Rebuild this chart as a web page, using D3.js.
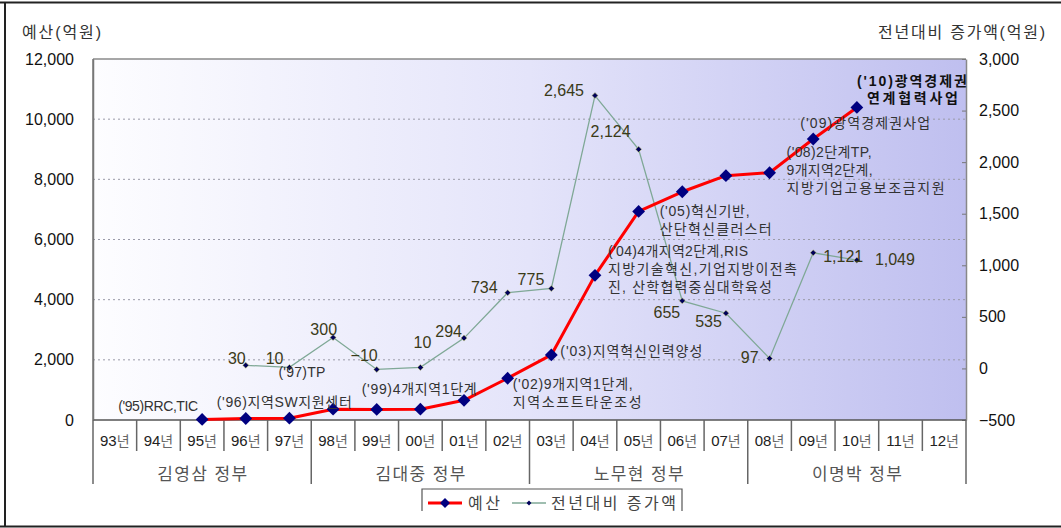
<!DOCTYPE html>
<html><head><meta charset="utf-8">
<script src="https://cdn.jsdelivr.net/npm/d3@7"></script>
<style>
body{margin:0;background:#fff;}
text{font-family:"Liberation Sans","Noto Sans CJK KR",sans-serif;}
</style></head>
<body>
<svg id="chart" width="1061" height="528"></svg>
<script>
// ---- data ----
const categories = ['93년','94년','95년','96년','97년','98년','99년','00년','01년','02년','03년','04년','05년','06년','07년','08년','09년','10년','11년','12년'];
const budget = [null,null,20,50,60,360,350,360,654,1388,2163,4808,6932,7587,8122,8219,9340,10389,null,null];
const increase = [null,null,null,30,10,300,-10,10,294,734,775,2645,2124,655,535,97,1121,1049,null,null];
const governments = [
  {name:'김영삼 정부', first:'93년', last:'97년'},
  {name:'김대중 정부', first:'98년', last:'02년'},
  {name:'노무현 정부', first:'03년', last:'07년'},
  {name:'이명박 정부', first:'08년', last:'12년'}
];
const leftTicks = [0,2000,4000,6000,8000,10000,12000];
const rightTicks = [-500,0,500,1000,1500,2000,2500,3000];
const annotations = [
  {cat:'95년', lines:["('95)RRC,TIC"]},
  {cat:'96년', lines:["('96)지역SW지원센터"]},
  {cat:'97년', lines:["('97)TP"]},
  {cat:'99년', lines:["('99)4개지역1단계"]},
  {cat:'02년', lines:["('02)9개지역1단계,","지역소프트타운조성"]},
  {cat:'03년', lines:["('03)지역혁신인력양성"]},
  {cat:'04년', lines:["('04)4개지역2단계,RIS","지방기술혁신,기업지방이전촉","진, 산학협력중심대학육성"]},
  {cat:'05년', lines:["('05)혁신기반,","산단혁신클러스터"]},
  {cat:'08년', lines:["('08)2단계TP,","9개지역2단계,","지방기업고용보조금지원"]},
  {cat:'09년', lines:["('09)광역경제권사업"]},
  {cat:'10년', lines:["('10)광역경제권","연계협력사업"], bold:true}
];
const seriesNames = ['예산','전년대비 증가액'];
const leftTitle = '예산(억원)';
const rightTitle = '전년대비 증가액(억원)';

// ---- layout / style (not data) ----
const annStyle = {
  '95년':{dx:-84,dy:-8,  w:[80]},
  '96년':{dx:-29,dy:-11, w:[135]},
  '97년':{dx:-11,dy:-41, w:[47]},
  '99년':{dx:-15,dy:-15, w:[115]},
  '02년':{dx:5,dy:11,    w:[120,129]},
  '03년':{dx:9,dy:1,     w:[142]},
  '04년':{dx:13,dy:-19,  w:[140,189,164]},
  '05년':{dx:21,dy:5,    w:[90,112]},
  '08년':{dx:17,dy:-16,  w:[85,86,158]},
  '09년':{dx:-13,dy:-11, w:[130]},
  '10년':{dx:0,dy:-21,   w:[110,91], right:[false,true]}
};
const valOffset = {
  '96년':{dx:0,dy:-1,a:'end'}, '97년':{dx:-6,dy:-3,a:'end'}, '98년':{dx:4,dy:-2,a:'end'},
  '99년':{dx:1,dy:-8,a:'end'}, '00년':{dx:11,dy:-19,a:'end'}, '01년':{dx:-2,dy:-1,a:'end'},
  '02년':{dx:-10,dy:0,a:'end'}, '03년':{dx:-7,dy:-3,a:'end'}, '04년':{dx:-11,dy:0,a:'end'},
  '05년':{dx:-8,dy:-12,a:'end'}, '06년':{dx:-2,dy:17,a:'end'}, '07년':{dx:-4,dy:14,a:'end'},
  '08년':{dx:-11,dy:5,a:'end'}, '09년':{dx:10,dy:9,a:'start'}, '10년':{dx:18,dy:5,a:'start'}
};

const svg = d3.select('#chart');
const L = 93, R = 966, T = 59, B = 420;
const x = d3.scaleBand().domain(categories).range([L, R]).padding(0);
const cx = c => x(c) + x.bandwidth()/2;
const yL = d3.scaleLinear().domain([0,12000]).range([B, T]);
const yR = d3.scaleLinear().domain([-500,3000]).range([B, T]);

// gradient background
const defs = svg.append('defs');
const grad = defs.append('linearGradient').attr('id','bg').attr('x1','0').attr('x2','1').attr('y1','0').attr('y2','0');
grad.append('stop').attr('offset','0%').attr('stop-color','#fdfdff');
grad.append('stop').attr('offset','50%').attr('stop-color','#e4e4fa');
grad.append('stop').attr('offset','100%').attr('stop-color','#bfbfef');
svg.append('rect').attr('x',L).attr('y',T).attr('width',R-L).attr('height',B-T).attr('fill','url(#bg)');

// gridlines
svg.append('g').selectAll('line').data(leftTicks.filter(d=>d>0 && d<12000)).join('line')
  .attr('x1',L).attr('x2',R).attr('y1',d=>yL(d)).attr('y2',d=>yL(d))
  .attr('stroke','#9a9aa8').attr('stroke-width',1).attr('stroke-dasharray','2,3');

// plot frame top
svg.append('line').attr('x1',L).attr('x2',R).attr('y1',T).attr('y2',T).attr('stroke','#8a8a8a').attr('stroke-width',1.5);

// left axis
const gL = svg.append('g').attr('transform',`translate(${L},0)`)
  .call(d3.axisLeft(yL).tickValues(leftTicks).tickFormat(d3.format(',')).tickSize(0).tickPadding(19));
gL.select('.domain').attr('stroke','#777').attr('stroke-width',1.5);
gL.selectAll('text').attr('font-size',16).attr('fill','#111').attr('font-family','Liberation Sans, Arial, sans-serif');

// right axis
const gR = svg.append('g').attr('transform',`translate(${R},0)`)
  .call(d3.axisRight(yR).tickValues(rightTicks).tickFormat(d3.format(',')).tickSizeInner(-4).tickSizeOuter(0).tickPadding(13));
gR.select('.domain').attr('stroke','#888').attr('stroke-width',1.5);
gR.selectAll('.tick line').attr('stroke','#777');
gR.selectAll('text').attr('font-size',16).attr('fill','#111').attr('font-family','Liberation Sans, Arial, sans-serif');

// axis titles
svg.append('text').attr('x',22).attr('y',38).attr('font-size',16).attr('fill','#333')
  .attr('textLength',79).attr('lengthAdjust','spacing').text(leftTitle);
svg.append('text').attr('x',878).attr('y',38).attr('font-size',16).attr('fill','#333')
  .attr('textLength',167).attr('lengthAdjust','spacing').text(rightTitle);

// x axis line and category table
svg.append('line').attr('x1',L).attr('x2',R).attr('y1',B).attr('y2',B).attr('stroke','#555').attr('stroke-width',1.5);
const groupEdges = [];
governments.forEach(g=>{ groupEdges.push(x(g.first)); groupEdges.push(x(g.last)+x.bandwidth()); });
const edges = categories.map(c=>x(c)).concat([R]);
svg.append('g').selectAll('line').data(edges).join('line')
  .attr('x1',d=>d).attr('x2',d=>d).attr('y1',B).attr('y2',d=> groupEdges.some(e=>Math.abs(e-d)<0.5) ? 484 : 451)
  .attr('stroke','#666').attr('stroke-width',1.5);
svg.append('line').attr('x1',L).attr('x2',L).attr('y1',T).attr('y2',B).attr('stroke','#777').attr('stroke-width',1.5);

const catG = svg.append('g').selectAll('text').data(categories).join('text')
  .attr('x',d=>cx(d)).attr('y',446).attr('text-anchor','middle').attr('font-size',15);
catG.append('tspan').attr('fill','#222').attr('font-family','Liberation Sans, Arial, sans-serif').text(d=>d.slice(0,2));
catG.append('tspan').attr('fill','#666').attr('font-family','Noto Sans CJK KR').attr('font-size',14).text(d=>d.slice(2));

svg.append('g').selectAll('text').data(governments).join('text')
  .attr('x',g=>(x(g.first)+x(g.last)+x.bandwidth())/2 - 45).attr('y',480)
  .attr('font-size',17).attr('fill','#555').attr('font-family','Noto Sans CJK KR')
  .attr('textLength',90).attr('lengthAdjust','spacing').text(g=>g.name);

// increase series (right axis)
const incData = categories.map((c,i)=>({c, v:increase[i]})).filter(d=>d.v!==null);
svg.append('path').datum(incData)
  .attr('d', d3.line().x(d=>cx(d.c)).y(d=>yR(d.v)))
  .attr('fill','none').attr('stroke','#7fa896').attr('stroke-width',1.3);
const smallDia = d3.symbol(d3.symbolSquare, 18);
svg.append('g').selectAll('path').data(incData).join('path')
  .attr('d',smallDia).attr('transform',d=>`translate(${cx(d.c)},${yR(d.v)}) rotate(45)`)
  .attr('fill','#00005a').attr('stroke','#c8d070').attr('stroke-width',0.5);

// budget series (left axis)
const budData = categories.map((c,i)=>({c, v:budget[i]})).filter(d=>d.v!==null);
svg.append('path').datum(budData)
  .attr('d', d3.line().x(d=>cx(d.c)).y(d=>yL(d.v)))
  .attr('fill','none').attr('stroke','#ff0000').attr('stroke-width',3).attr('stroke-linejoin','round');
const bigDia = d3.symbol(d3.symbolSquare, 82);
svg.append('g').selectAll('path').data(budData).join('path')
  .attr('d',bigDia).attr('transform',d=>`translate(${cx(d.c)},${yL(d.v)}) rotate(45)`)
  .attr('fill','#000080');

// value labels for increase
const fmt = d3.format(',');
svg.append('g').selectAll('text').data(incData).join('text')
  .attr('x',d=>cx(d.c)+valOffset[d.c].dx).attr('y',d=>yR(d.v)+valOffset[d.c].dy)
  .attr('text-anchor',d=>valOffset[d.c].a)
  .attr('font-size',16).attr('fill','#3a3a18').attr('font-family','Liberation Sans, Arial, sans-serif')
  .text(d=>fmt(d.v));

// annotations
const budOf = c => budget[categories.indexOf(c)];
const annG = svg.append('g');
annotations.forEach(a=>{
  const s = annStyle[a.cat];
  const px = cx(a.cat), py = yL(budOf(a.cat));
  a.lines.forEach((ln,i)=>{
    const w = s.w[i];
    const alignRight = s.right && s.right[i];
    const x0 = alignRight ? (R - 8 - w) : (px + s.dx);
    annG.append('text')
      .attr('x',x0).attr('y',py + s.dy + i*(a.bold?17:18))
      .attr('font-size',14).attr('fill',a.bold?'#111':'#333')
      .attr('font-weight',a.bold?'bold':'normal')
      .attr('textLength',w).attr('lengthAdjust','spacing')
      .text(ln);
  });
});

// legend
const lg = svg.append('g');
lg.append('path').attr('d','M422,511 V489 H682 V511').attr('fill','none').attr('stroke','#555').attr('stroke-width',1.2);
lg.append('line').attr('x1',428).attr('x2',462).attr('y1',503).attr('y2',503).attr('stroke','#ff0000').attr('stroke-width',3);
lg.append('path').attr('d',d3.symbol(d3.symbolSquare,50)).attr('transform','translate(445,503) rotate(45)').attr('fill','#000080');
lg.append('text').attr('x',468).attr('y',509).attr('font-size',16).attr('fill','#444').attr('font-family','Noto Sans CJK KR')
  .attr('textLength',32).attr('lengthAdjust','spacing').text(seriesNames[0]);
lg.append('line').attr('x1',512).attr('x2',546).attr('y1',503).attr('y2',503).attr('stroke','#7fa896').attr('stroke-width',1.3);
lg.append('path').attr('d',d3.symbol(d3.symbolSquare,12)).attr('transform','translate(529,503) rotate(45)').attr('fill','#00005a');
lg.append('text').attr('x',551).attr('y',509).attr('font-size',16).attr('fill','#444').attr('font-family','Noto Sans CJK KR')
  .attr('textLength',125).attr('lengthAdjust','spacing').text(seriesNames[1]);

// outer frame
svg.append('line').attr('x1',0).attr('x2',1061).attr('y1',2.5).attr('y2',2.5).attr('stroke','#222').attr('stroke-width',2);
svg.append('line').attr('x1',5).attr('x2',5).attr('y1',2).attr('y2',527).attr('stroke','#222').attr('stroke-width',2);
svg.append('line').attr('x1',0).attr('x2',1061).attr('y1',526.5).attr('y2',526.5).attr('stroke','#222').attr('stroke-width',2);
</script>
</body></html>
